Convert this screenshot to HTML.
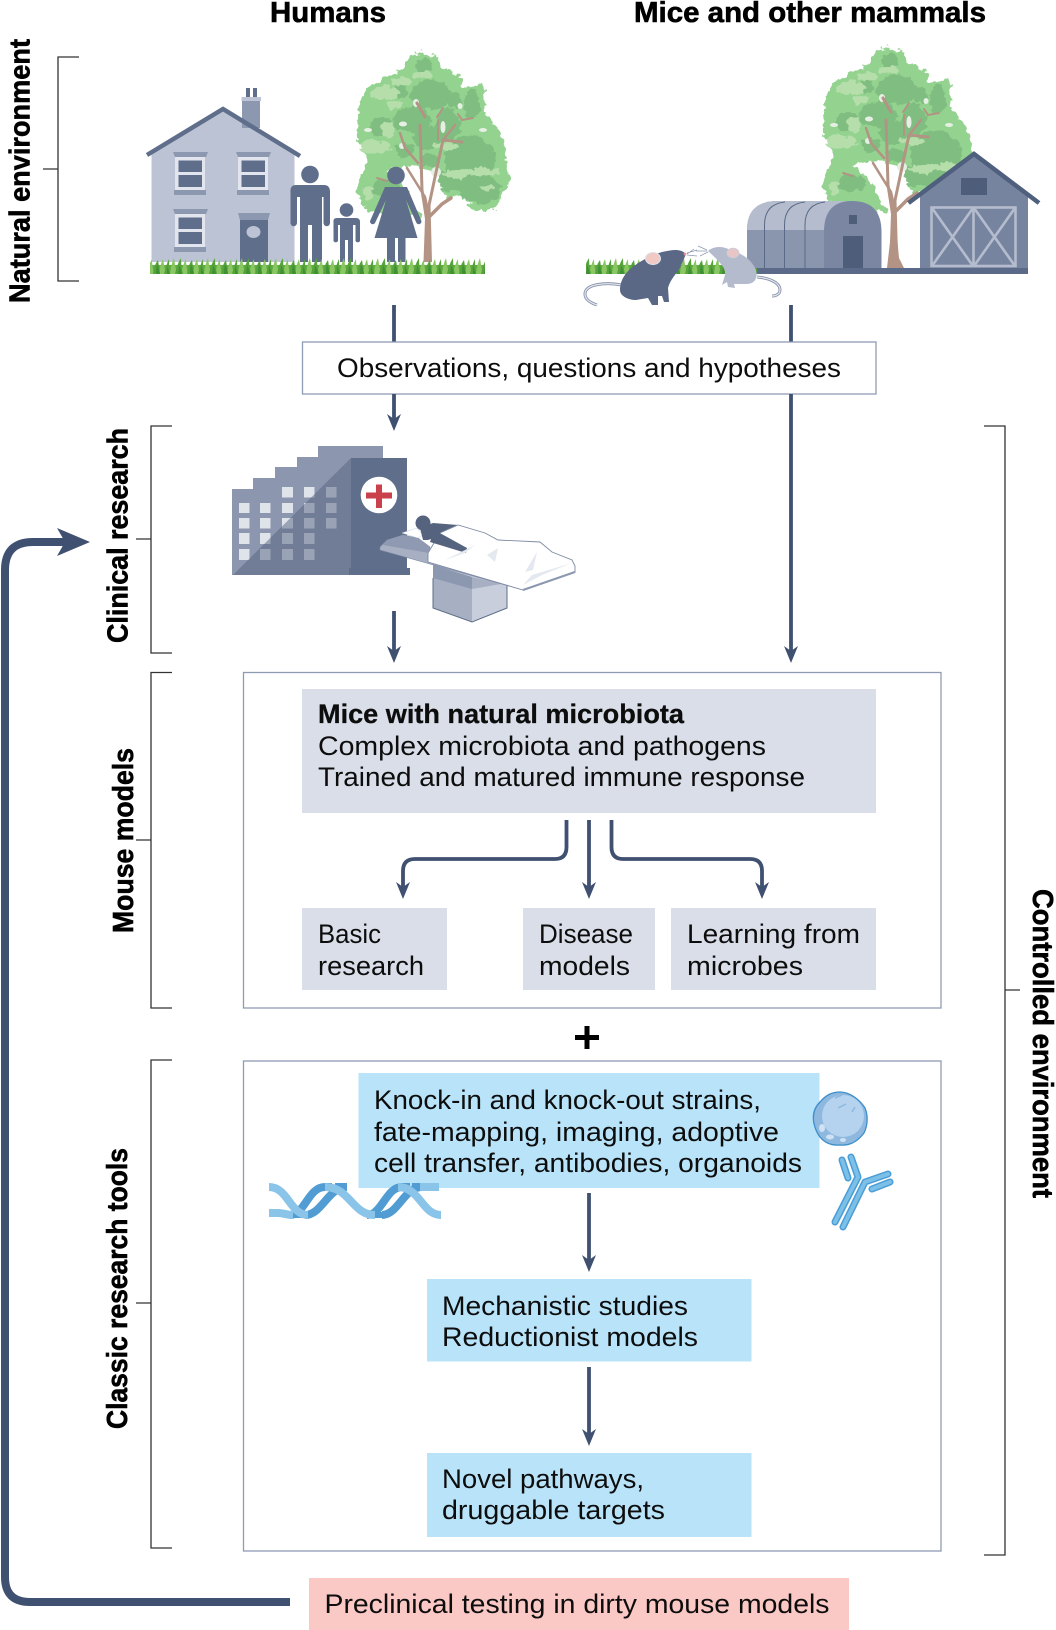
<!DOCTYPE html>
<html><head><meta charset="utf-8"><title>Diagram</title>
<style>
html,body{margin:0;padding:0;background:#fff}
svg{display:block}
text{font-family:"Liberation Sans",sans-serif;font-size:26.5px;fill:#0d0d0d}
.b{font-weight:bold;font-size:29px;fill:#000;stroke:#000;stroke-width:.6px}
.br{fill:none;stroke:#333;stroke-width:1.3}
.arr{stroke:#3f5070;stroke-width:3.8;fill:none}
.box{fill:#fff;stroke:#8f9ab5;stroke-width:1.3}
</style></head><body>
<svg width="1056" height="1630" viewBox="0 0 1056 1630" xmlns="http://www.w3.org/2000/svg">
<defs>
<filter id="rough" x="-10%" y="-10%" width="120%" height="120%">
<feTurbulence type="fractalNoise" baseFrequency=".17" numOctaves="2" seed="7" result="n"/>
<feDisplacementMap in="SourceGraphic" in2="n" scale="9" xChannelSelector="R" yChannelSelector="G"/>
</filter>
<pattern id="grass" x="0" y="258" width="34" height="16" patternUnits="userSpaceOnUse">
<rect y="7" width="34" height="9" fill="#62ad42"/>
<path d="M0 16Q1 6 4 0Q5 8 7 16Z M11 16Q13 6 16 1Q16 8 18 16Z M23 16Q24 7 27 1Q28 8 30 16Z" fill="#8ac762"/>
<path d="M5 16Q7 6 11 0Q11 8 13 16Z M17 16Q18 7 22 2Q23 8 24 16Z M28 16Q30 7 33 1Q33 8 34 16Z" fill="#55a33b"/>
<path d="M8 16Q9 11 9 7Q11 11 12 16Z M20 16Q20 10 21 6Q23 10 24 16Z M31 16L31 8L34 16Z" fill="#3f8f35"/>
</pattern>
<polygon id="ah" points="0,0 -7,-17 0,-12 7,-17" fill="#3f5070"/>
<g id="tree">
<g filter="url(#rough)">
<g fill="#93d38f">
<polygon points="420,52 437,56 440,66 460,76 462,88 484,84 486,113 504,138 505,153 510,183 494,210 472,210 462,194 445,199 440,175 420,167 398,167 385,172 400,180 422,217 400,218 368,212 355,192 364,172 368,160 356,138 359,108 366,88 400,70 408,58"/>
</g>
<g fill="#80bd80">
<ellipse cx="470" cy="160" rx="26" ry="24"/><ellipse cx="480" cy="190" rx="20" ry="14"/>
<ellipse cx="455" cy="180" rx="18" ry="12"/><ellipse cx="430" cy="95" rx="20" ry="15"/>
<ellipse cx="472" cy="104" rx="8" ry="15"/><ellipse cx="382" cy="127" rx="12" ry="10"/>
<ellipse cx="412" cy="120" rx="19" ry="13"/><ellipse cx="428" cy="138" rx="15" ry="12"/>
<ellipse cx="385" cy="188" rx="14" ry="9"/><ellipse cx="448" cy="125" rx="12" ry="16"/>
<ellipse cx="405" cy="150" rx="10" ry="7"/><ellipse cx="424" cy="66" rx="8" ry="7"/>
<ellipse cx="400" cy="92" rx="8" ry="6"/><ellipse cx="455" cy="100" rx="8" ry="8"/>
<ellipse cx="430" cy="160" rx="10" ry="6"/>
</g>
<g fill="#b5deaa">
<ellipse cx="385" cy="93" rx="15" ry="7"/><ellipse cx="402" cy="82" rx="10" ry="4"/>
<ellipse cx="375" cy="147" rx="15" ry="7"/><ellipse cx="388" cy="130" rx="7" ry="8"/>
<ellipse cx="445" cy="146" rx="14" ry="4"/><ellipse cx="478" cy="172" rx="22" ry="3.500"/>
<ellipse cx="457" cy="174" rx="13" ry="4"/><ellipse cx="487" cy="188" rx="9" ry="3"/>
<ellipse cx="423" cy="75" rx="10" ry="3.500"/><ellipse cx="368" cy="193" rx="5" ry="7"/>
<ellipse cx="395" cy="105" rx="8" ry="4"/>
</g>
</g>
<g fill="#e6efe3">
<ellipse cx="416" cy="103" rx="3" ry="4"/><ellipse cx="443" cy="127" rx="2.500" ry="6"/>
<ellipse cx="460" cy="106" rx="2.500" ry="3"/><ellipse cx="436" cy="172" rx="5" ry="5"/>
<ellipse cx="403" cy="124" rx="4" ry="2.500"/><ellipse cx="368" cy="130" rx="4" ry="2"/>
<ellipse cx="483" cy="130" rx="4" ry="2"/><ellipse cx="402" cy="146" rx="3" ry="3"/>
</g>
<g fill="none" stroke="#b39384" stroke-linecap="round">
<path d="M427 222L422 190L421 157L420 125" stroke-width="3"/>
<path d="M400 133L405 148L418 163" stroke-width="2.500"/>
<path d="M417 103L425 117" stroke-width="3"/>
<path d="M428 210L438 163L443 140L462 142" stroke-width="3"/>
<path d="M443 140L455 125" stroke-width="2.500"/>
<path d="M438 140L438 120" stroke-width="2"/>
<path d="M437 117L443 108" stroke-width="2"/>
<path d="M462 120L473 118M462 120L458 114" stroke-width="2"/>
<path d="M430 216L442 204L451 198" stroke-width="3.500"/>
<path d="M407 168L425 197L429 216" stroke-width="2.500"/>
<path d="M377 178L387 181" stroke-width="2"/>
</g>
<polygon points="423.500,262 432,262 430.500,205 425.500,205" fill="#b39384"/>
</g>
</defs>

<!-- titles -->
<text class="b" x="270" y="22" textLength="116" lengthAdjust="spacingAndGlyphs">Humans</text>
<text class="b" x="634" y="22" textLength="352" lengthAdjust="spacingAndGlyphs">Mice and other mammals</text>

<!-- side labels -->
<text class="b" transform="translate(29.500 303) rotate(-90)" textLength="264" lengthAdjust="spacingAndGlyphs">Natural environment</text>
<text class="b" transform="translate(127.500 643) rotate(-90)" textLength="215" lengthAdjust="spacingAndGlyphs">Clinical research</text>
<text class="b" transform="translate(133 933) rotate(-90)" textLength="185" lengthAdjust="spacingAndGlyphs">Mouse models</text>
<text class="b" transform="translate(127 1429) rotate(-90)" textLength="281" lengthAdjust="spacingAndGlyphs">Classic research tools</text>
<text class="b" transform="translate(1033 889) rotate(90)" textLength="309" lengthAdjust="spacingAndGlyphs">Controlled environment</text>

<!-- brackets -->
<path class="br" d="M79 57H58V281H79M43 169H58"/>
<path class="br" d="M172 426H151V653H172M136 539H151"/>
<path class="br" d="M172 672.500H151V1008H172M136 840H151"/>
<path class="br" d="M172 1060H151V1548H172M136 1303H151"/>
<path class="br" d="M984 426H1005V1555H984M1005 990H1020"/>

<!-- human scene -->
<use href="#tree"/>
<polygon points="151.500,152 223,110 294.500,152 294.500,262 151.500,262" fill="#bcc3d4"/>
<rect x="242" y="100" width="18" height="28" fill="#8c97b0"/>
<rect x="241.500" y="97" width="19.500" height="4" fill="#bcc3d4"/>
<rect x="246" y="88" width="4" height="9" fill="#5f6e8a"/><rect x="253" y="88" width="4" height="9" fill="#5f6e8a"/>
<path d="M147 155L223 109L300 156" fill="none" stroke="#5f6e8a" stroke-width="4.500"/>
<g id="win">
<polygon points="173,152 208,152 206,157 175,157" fill="#8c97b0"/>
<rect x="175" y="157" width="30" height="33" fill="#e2e5ed"/>
<rect x="178.500" y="160.500" width="23.500" height="11.500" fill="#5f6e8a"/>
<rect x="178.500" y="175" width="23.500" height="12" fill="#5f6e8a"/>
<rect x="174" y="190" width="32" height="5" fill="#8c97b0"/>
</g>
<use href="#win" x="63"/><use href="#win" y="57"/>
<polygon points="238,213 270,213 268,220 240,220" fill="#8c97b0"/>
<rect x="240" y="220" width="28" height="42" fill="#5f6e8a"/>
<ellipse cx="253.500" cy="232" rx="7" ry="6" fill="#bcc3d4"/>
<g fill="#5f6e8a">
<circle cx="310" cy="174.500" r="8.800"/>
<path d="M296 185H324Q330 185 330 192V223a3 3 0 0 1-6.500 0V197H322V262H312V225H308V262H300V197H297V223a3 3 0 0 1-6.500 0V192Q290 185 296 185Z"/>
<circle cx="346.500" cy="210" r="6.800"/>
<path d="M337 218H356Q360 218 360 222V241a2.500 2.500 0 0 1-4.500 0V225H353V262H348V240H345V262H340V225H338V241a2.500 2.500 0 0 1-4.500 0V222Q333 218 337 218Z"/>
<circle cx="396" cy="175.500" r="8.800"/>
<path d="M385 187H407L421 220a2.500 2.500 0 0 1-4.500 3L406 200L417.500 238H405.500V262H398V238H395V262H387V238H374.500L386 200L375 223a2.500 2.500 0 0 1-4.500-3Z"/>
</g>
<rect x="150" y="258" width="335" height="16" fill="url(#grass)"/>

<!-- mammal scene -->
<g transform="translate(466,-5)"><use href="#tree"/></g>
<polygon points="887,268 892,225 896,225 899,258 904,268" fill="#b39384"/>
<rect x="586" y="258" width="173" height="16" fill="url(#grass)"/>
<rect x="758" y="268" width="270" height="6" fill="#5a6a88"/>
<path d="M747 268V230Q747 201 778 201H845V268Z" fill="#8a95ae"/>
<path d="M747 230Q747 201 778 201H845V230Z" fill="#b5bccd"/>
<path d="M824 268V232Q824 201 852 201 881.500 201 881.500 232V268Z" fill="#7a86a2"/>
<path d="M764.500 268V225Q764.500 204 785 202M784.500 268V225Q784.500 204 805 202M805 268V225Q805 204 825 202" fill="none" stroke="#5a6a88" stroke-width="1"/>
<rect x="849" y="215" width="8" height="9" fill="#4d5d7a"/>
<rect x="843" y="236" width="20" height="32" fill="#4d5d7a"/>
<polygon points="920,196 974,154 1028,196 1028,268 920,268" fill="#7784a0"/>
<path d="M908.500 203L974 154L1039 203" fill="none" stroke="#4f5f7e" stroke-width="4.500"/>
<rect x="961" y="178" width="26" height="17" fill="#4d5d7a"/>
<g fill="none" stroke="#b5bccd" stroke-width="2.600">
<rect x="931.500" y="207.500" width="84" height="58.500"/>
<path d="M973.500 207V266M932 208L973 266M973 208L932 266M974 208L1015 266M1015 208L974 266"/>
</g>
<!-- mice -->
<g fill="none">
<path d="M622 285C605 282 585 284 585 294C585 300 591 303 597 305" stroke="#8a94ad" stroke-width="3"/>
<path d="M622 285C605 282 585 284 585 294C585 300 591 303 597 305" stroke="#e4e7ee" stroke-width="1.200"/>
<path d="M757 277C768 278 780 282 780 290C780 294 776 296 772 296" stroke="#8a94ad" stroke-width="3"/>
<path d="M757 277C768 278 780 282 780 290C780 294 776 296 772 296" stroke="#e4e7ee" stroke-width="1.200"/>
</g>
<path d="M686 254C680 248 672 250 662 252C652 255 642 260 634 266C624 273 620 282 620 290C620 296 628 300 636 300L648 298L652 305L658 305L658 296L662 296L664 302L669 302L668 288C670 280 676 274 680 268Z" fill="#5a6885"/>
<ellipse cx="653" cy="258.500" rx="7.500" ry="6" fill="#f0c8c4" stroke="#dfe2ea" stroke-width="1"/>
<circle cx="685" cy="254" r="1.400" fill="#e58f96"/>
<path d="M687 253L697 250M687 254L694 249M687 255L697 256" stroke="#8c97b0" stroke-width=".7"/>
<path d="M708 251C712 247 722 245 730 250C742 253 752 260 756 270C758 278 755 284 746 284L734 284L735 288L728 287L727 282L722 285L725 275C726 268 720 262 708 251Z" fill="#b4bbcd"/>
<ellipse cx="733" cy="253" rx="6" ry="4.800" fill="#e9c6c6" stroke="#c9cedb" stroke-width=".8"/>
<path d="M707 250L698 246M707 251L696 251M708 252L700 256" stroke="#8c97b0" stroke-width=".7"/>

<!-- observations -->
<line class="arr" x1="394" y1="305" x2="394" y2="342"/>
<line class="arr" x1="791" y1="305" x2="791" y2="342"/>
<rect class="box" x="302.500" y="342" width="573.500" height="52"/>
<text x="337" y="377" textLength="504" lengthAdjust="spacingAndGlyphs">Observations, questions and hypotheses</text>
<line class="arr" x1="394" y1="394" x2="394" y2="422"/><use href="#ah" x="394" y="431"/>
<line class="arr" x1="791" y1="394" x2="791" y2="654"/><use href="#ah" x="791" y="663"/>

<!-- hospital -->
<polygon points="232,575 232,489 253,489 253,478 275,478 275,467 297,467 297,457 318,457 318,446 383,446 383,458 351,458 351,575" fill="#8c96ae"/>
<g fill="#dfe3ea">
<rect x="282" y="487" width="11" height="10.500"/><rect x="304" y="487" width="10.500" height="10.500"/><rect x="326" y="487" width="10.500" height="10.500"/>
<rect x="239" y="503" width="10.500" height="10"/><rect x="260" y="503" width="10.500" height="10"/><rect x="282" y="503" width="11" height="10"/><rect x="304" y="503" width="10.500" height="10"/><rect x="326" y="503" width="10.500" height="10"/>
<rect x="239" y="518" width="10.500" height="10.500"/><rect x="260" y="518" width="10.500" height="10.500"/><rect x="282" y="518" width="11" height="10.500"/><rect x="304" y="518" width="10.500" height="10.500"/><rect x="326" y="518" width="10.500" height="10.500"/>
<rect x="239" y="533" width="10.500" height="11"/><rect x="260" y="533" width="10.500" height="11"/><rect x="282" y="533" width="11" height="11"/><rect x="304" y="533" width="10.500" height="11"/>
<rect x="239" y="549" width="10.500" height="11"/><rect x="260" y="549" width="10.500" height="11"/><rect x="282" y="549" width="11" height="11"/><rect x="304" y="549" width="10.500" height="11"/>
</g>
<polygon points="233,575 351,458 351,575" fill="#55647f" opacity=".5"/>
<rect x="351" y="458" width="56" height="117" fill="#5f6e8a"/>
<rect x="349" y="568" width="61" height="7" fill="#5f6e8a"/>
<circle cx="379" cy="495" r="18.300" fill="#fff"/>
<path d="M376 484.500H382V492.500H392V498.500H382V508H376V498.500H366V492.500H376Z" fill="#c9414a"/>
<!-- bed -->
<polygon points="433,565 472,575 507,585 507,608 472,622 433,608" fill="#c8cedc"/>
<polygon points="433,565 472,577 472,622 433,608" fill="#a7afc3"/>
<polygon points="433,565 472,577 472,589 433,578" fill="#8c97b0"/>
<polygon points="472,577 507,585 507,583 472,589" fill="#a7afc3"/>
<path d="M433 578V608L472 622L507 608V583" fill="none" stroke="#5f6e8a" stroke-width="1"/>
<polygon points="380,547 387,540 403,535 418,538 430,547 428,560 523,587 523,590 380,550" fill="#a7afc3" stroke="#7f8aa5" stroke-width=".6"/>
<polygon points="387,540 403,535 418,538 430,547 429,553 383,545" fill="#8f9ab2"/>
<polygon points="402,533 417,528 423,535 418,538" fill="#fff" stroke="#c9cedb" stroke-width=".5"/>
<circle cx="423" cy="523" r="7.500" fill="#56637f"/>
<polygon points="420,528 433,523 458,525 440,536 428,540 423,540" fill="#56637f"/>
<path d="M428 553L440 533L458 525L485 533L498 540L540 542L552 552L572 560L575 566L575 572L523 590L428 562Z" fill="#fff" stroke="#7f8aa5" stroke-width=".9"/>
<polygon points="432,536 438,532 467,548 466,553 430,542" fill="#56637f"/>
<g fill="#e4e8ef">
<polygon points="525,572 537,552 533,570"/>
<polygon points="487,555 498,548 495,562"/>
<polygon points="445,560 475,545 465,553"/>
<polygon points="523,585 532,575 572,563 542,575"/>
</g>
<path d="M523 590L575 572" stroke="#8c97b0" stroke-width="2"/>
<line class="arr" x1="394" y1="611" x2="394" y2="654"/><use href="#ah" x="394" y="663"/>

<!-- mouse models box -->
<rect class="box" x="243.500" y="672.500" width="697.500" height="335.500"/>
<rect x="302" y="689" width="574" height="124" fill="#d9dee8"/>
<text x="318" y="723" textLength="366" lengthAdjust="spacingAndGlyphs" style="font-weight:bold;stroke:#000;stroke-width:.25px">Mice with natural microbiota</text>
<text x="318" y="755" textLength="448" lengthAdjust="spacingAndGlyphs">Complex microbiota and pathogens</text>
<text x="318" y="786" textLength="487" lengthAdjust="spacingAndGlyphs">Trained and matured immune response</text>
<path class="arr" d="M566.500 820V847Q566.500 859 555 859H415Q403 859 403 871V890"/><use href="#ah" x="403" y="899"/>
<line class="arr" x1="589" y1="820" x2="589" y2="890"/><use href="#ah" x="589" y="899"/>
<path class="arr" d="M611.500 820V847Q611.500 859 623 859H750Q762 859 762 871V890"/><use href="#ah" x="762" y="899"/>
<rect x="302" y="908" width="145" height="82" fill="#d9dee8"/>
<rect x="523" y="908" width="132" height="82" fill="#d9dee8"/>
<rect x="671" y="908" width="205" height="82" fill="#d9dee8"/>
<text x="318" y="943" textLength="63" lengthAdjust="spacingAndGlyphs">Basic</text>
<text x="318" y="975" textLength="106" lengthAdjust="spacingAndGlyphs">research</text>
<text x="539" y="943" textLength="94" lengthAdjust="spacingAndGlyphs">Disease</text>
<text x="539" y="975" textLength="91" lengthAdjust="spacingAndGlyphs">models</text>
<text x="687" y="943" textLength="173" lengthAdjust="spacingAndGlyphs">Learning from</text>
<text x="687" y="975" textLength="116" lengthAdjust="spacingAndGlyphs">microbes</text>
<path d="M584.500 1026H589.500V1035H599V1040H589.500V1049H584.500V1040H575V1035H584.500Z" fill="#000"/>

<!-- classic box -->
<rect class="box" x="243.500" y="1061" width="697.500" height="490"/>
<rect x="358.500" y="1073" width="461" height="115" fill="#b8e3f9"/>
<text x="374" y="1109" textLength="387" lengthAdjust="spacingAndGlyphs">Knock-in and knock-out strains,</text>
<text x="374" y="1141" textLength="405" lengthAdjust="spacingAndGlyphs">fate-mapping, imaging, adoptive</text>
<text x="374" y="1172" textLength="428" lengthAdjust="spacingAndGlyphs">cell transfer, antibodies, organoids</text>
<g fill="none" stroke="#519dd3" stroke-width="8">
<path d="M290 1215C305 1215 308 1187 325 1187H332"/>
<path d="M305 1215C322 1215 328 1187 347 1187H335"/>
<path d="M367 1215C382 1215 386 1187 402 1187H410"/>
<path d="M382 1215C398 1215 404 1187 422 1187H412"/>
<path d="M290 1215H305M367 1215H382" stroke-width="6"/>
</g>
<g fill="none" stroke="#8ac4e8" stroke-width="8">
<path d="M269 1187C288 1187 290 1215 308 1215"/>
<path d="M325 1187C350 1187 352 1215 375 1215"/>
<path d="M398 1187C420 1187 422 1215 441 1215"/>
<path d="M269 1213H278C284 1213 286 1215 293 1215"/>
<path d="M420 1187H439"/>
</g>
<path d="M840 1092C850 1092 860 1100 865 1108C868 1115 868 1125 864 1133C858 1141 850 1146 840 1145C828 1146 820 1140 816 1130C812 1120 812 1110 820 1102C826 1095 832 1092 840 1092Z" fill="#8fb8df" stroke="#3d8ecb" stroke-width="1.300"/>
<ellipse cx="843" cy="1116" rx="21" ry="21" fill="#b5d3ee"/>
<g fill="#cfe2f4"><ellipse cx="822" cy="1128" rx="3" ry="4"/><ellipse cx="830" cy="1137" rx="4" ry="2.500"/><ellipse cx="843" cy="1140" rx="3" ry="2"/></g>
<path d="M838 1108L846 1104M852 1112L855 1107M835 1098L842 1095" stroke="#8fb8df" stroke-width="1.500"/>
<g fill="none" stroke-linecap="round" stroke-linejoin="round">
<g stroke="#4a9dd6" stroke-width="7">
<path d="M842 1160L848 1178"/><path d="M851 1157L858 1177L835 1222"/><path d="M843 1227L865 1182L888 1174"/><path d="M872 1189L890 1182"/>
</g>
<g stroke="#7cc0e8" stroke-width="4">
<path d="M842 1160L848 1178"/><path d="M851 1157L858 1177L835 1222"/><path d="M843 1227L865 1182L888 1174"/><path d="M872 1189L890 1182"/>
</g>
</g>
<line class="arr" x1="589" y1="1193" x2="589" y2="1263"/><use href="#ah" x="589" y="1272"/>
<rect x="427" y="1279" width="324.500" height="82.500" fill="#b8e3f9"/>
<text x="442" y="1315" textLength="246" lengthAdjust="spacingAndGlyphs">Mechanistic studies</text>
<text x="442" y="1346" textLength="256" lengthAdjust="spacingAndGlyphs">Reductionist models</text>
<line class="arr" x1="589" y1="1367" x2="589" y2="1437"/><use href="#ah" x="589" y="1446"/>
<rect x="427" y="1453" width="324.500" height="84" fill="#b8e3f9"/>
<text x="442" y="1488" textLength="202" lengthAdjust="spacingAndGlyphs">Novel pathways,</text>
<text x="442" y="1519" textLength="223" lengthAdjust="spacingAndGlyphs">druggable targets</text>

<!-- preclinical -->
<rect x="309" y="1578" width="540" height="52" fill="#fbc9c5"/>
<text x="324.500" y="1613" textLength="505" lengthAdjust="spacingAndGlyphs">Preclinical testing in dirty mouse models</text>
<path d="M290 1602H30Q5 1602 5 1577V570Q5 542 33 542H66" fill="none" stroke="#3f5070" stroke-width="8"/>
<polygon points="90,542 57,528 65,542 57,556" fill="#3f5070"/>
</svg>
</body></html>
